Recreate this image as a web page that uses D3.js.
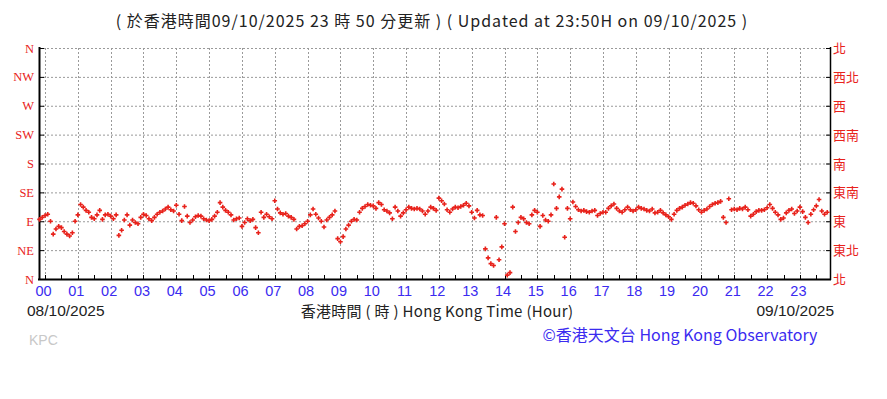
<!DOCTYPE html>
<html>
<head>
<meta charset="utf-8">
<title>Wind direction</title>
<style>
    body { margin: 0; background: white; }
    text { font-family: "Liberation Sans", Arial, sans-serif; }
    .grid line { stroke: #9a9a9a; stroke-width: 1px; stroke-dasharray: 2,2; }
</style>
<script src="https://d3js.org/d3.v7.min.js"></script>
</head>
<body>
<svg id="chart" width="887" height="399"></svg>
<script>
    // direction labels, bottom (0 deg) to top (360 deg)
    var dirDeg = [0, 45, 90, 135, 180, 225, 270, 315, 360];
    var dirEn = ["N", "NE", "E", "SE", "S", "SW", "W", "NW", "N"];
    var dirZh = ["北", "東北", "東", "東南", "南", "西南", "西", "西北", "北"];
    var hourLabels = ["00","01","02","03","04","05","06","07","08","09","10","11",
                      "12","13","14","15","16","17","18","19","20","21","22","23"];

    // first reading at 23:50 of the day before, one every 5 minutes
    var startMinute = -10;
    var stepMinutes = 5;
    var windDir = [
        93, 96,
        99, 101, 90, 70, 78, 82, 80, 74, 70, 67, 72, 90,          // 00
        100, 116, 112, 107, 104, 96, 94, 100, 107, 93, 100, 101,  // 01
        98, 94, 100, 68, 76, 92, 100, 84, 92, 88, 86, 96,         // 02
        101, 99, 94, 91, 96, 101, 104, 106, 109, 112, 108, 106,   // 03
        115, 101, 91, 113, 98, 88, 92, 97, 99, 98, 94, 92,        // 04
        91, 93, 98, 104, 119, 112, 107, 104, 100, 92, 94, 95,     // 05
        82, 88, 94, 91, 93, 80, 72, 104, 96, 101, 97, 94,         // 06
        122, 109, 103, 101, 102, 98, 96, 93, 78, 82, 83, 86,      // 07
        90, 100, 109, 101, 95, 90, 81, 92, 96, 100, 106, 63,      // 08
        58, 66, 78, 84, 90, 93, 92, 104, 110, 113, 116, 115,      // 09
        114, 110, 119, 116, 108, 106, 103, 94, 112, 106, 98, 103, // 10
        108, 112, 110, 109, 110, 109, 106, 101, 106, 112, 110, 107, // 11
        126, 122, 117, 108, 104, 109, 112, 111, 113, 115, 118, 114, // 12
        104, 95, 107, 100, 99, 47, 33, 24, 21, 96, 30, 50,        // 13
        86, 6, 10, 112, 74, 88, 96, 94, 88, 86, 100, 107,         // 14
        104, 82, 99, 92, 90, 100, 148, 110, 128, 140, 65, 110,    // 15
        94, 120, 113, 108, 106, 107, 105, 104, 106, 107, 99, 102, // 16
        104, 104, 110, 114, 117, 110, 106, 104, 108, 112, 108, 106, // 17
        108, 112, 110, 109, 107, 106, 109, 103, 104, 107, 103, 100, // 18
        97, 93, 101, 107, 110, 112, 115, 117, 119, 118, 114, 108, // 19
        104, 107, 109, 113, 116, 118, 119, 121, 96, 88, 125, 108, // 20
        109, 108, 110, 109, 112, 108, 98, 101, 105, 107, 107, 108, // 21
        111, 116, 110, 104, 100, 93, 95, 103, 107, 109, 102, 106, // 22
        112, 105, 96, 88, 101, 108, 114, 124, 106, 101, 104       // 23
    ];

    var svg = d3.select("#chart");
    var red = "#e8221b";
    var blue = "#3b2bf0";

    var x = d3.scaleLinear().domain([-11, 1435]).range([39, 830]);
    var y = d3.scaleLinear().domain([0, 360]).range([279, 48]);

    // title
    svg.append("text")
        .attr("x", 432).attr("y", 27)
        .attr("text-anchor", "middle")
        .style("font-size", "16px").style("fill", "#222")
        .style("letter-spacing", "1px")
        .style("font-family", "'Noto Sans CJK TC', 'Liberation Sans', sans-serif")
        .text("( 於香港時間09/10/2025 23 時 50 分更新 ) ( Updated at 23:50H on 09/10/2025 )");

    // grid
    var grid = svg.append("g").attr("class", "grid");
    grid.selectAll(".h")
        .data(dirDeg.slice(1))
        .join("line")
        .attr("x1", x(-11)).attr("x2", x(1435))
        .attr("y1", d => y(d) + 0.5).attr("y2", d => y(d) + 0.5);
    grid.selectAll(".v")
        .data(d3.range(24))
        .join("line")
        .attr("x1", d => Math.round(x(d * 60)) + 0.5).attr("x2", d => Math.round(x(d * 60)) + 0.5)
        .attr("y1", y(360)).attr("y2", y(0));

    // frame: left, bottom, right
    svg.append("line").attr("x1", 39.5).attr("x2", 39.5).attr("y1", 47).attr("y2", 280)
        .attr("stroke", "#000").attr("stroke-width", 2);
    svg.append("line").attr("x1", 38).attr("x2", 831).attr("y1", 279.5).attr("y2", 279.5)
        .attr("stroke", "#000").attr("stroke-width", 2);
    svg.append("line").attr("x1", 830.5).attr("x2", 830.5).attr("y1", 47).attr("y2", 280)
        .attr("stroke", "#000").attr("stroke-width", 1.5);

    // inward ticks
    svg.selectAll(".lt").data(dirDeg).join("line")
        .attr("x1", 40).attr("x2", 44)
        .attr("y1", d => y(d) + 0.5).attr("y2", d => y(d) + 0.5)
        .attr("stroke", "#000");
    svg.selectAll(".rt").data(dirDeg).join("line")
        .attr("x1", 826).attr("x2", 830)
        .attr("y1", d => y(d) + 0.5).attr("y2", d => y(d) + 0.5)
        .attr("stroke", "#000");
    svg.selectAll(".bt").data(d3.range(0, 1440, 30)).join("line")
        .attr("x1", d => Math.round(x(d)) + 0.5).attr("x2", d => Math.round(x(d)) + 0.5)
        .attr("y1", 275).attr("y2", 279)
        .attr("stroke", "#000");

    // direction labels
    svg.selectAll(".en").data(dirDeg).join("text")
        .attr("x", 34).attr("y", d => y(d) + 4.5)
        .attr("text-anchor", "end")
        .style("font-family", "'Liberation Serif', 'DejaVu Serif', serif")
        .style("font-size", "12.5px")
        .style("fill", red)
        .text((d, i) => dirEn[i]);
    svg.selectAll(".zh").data(dirDeg).join("text")
        .attr("x", 833).attr("y", d => y(d) + 5)
        .style("font-family", "'Noto Sans CJK TC', sans-serif")
        .style("font-size", "13px")
        .style("fill", red)
        .text((d, i) => dirZh[i]);

    // hour labels
    svg.selectAll(".hr").data(hourLabels).join("text")
        .attr("x", (d, i) => x(i * 60) - 1.5).attr("y", 296)
        .attr("text-anchor", "middle")
        .style("font-size", "14.5px")
        .style("fill", blue)
        .text(d => d);

    svg.append("text").attr("x", 27).attr("y", 316)
        .style("font-size", "15.5px").style("fill", "#222")
        .text("08/10/2025");
    svg.append("text").attr("x", 834).attr("y", 316)
        .attr("text-anchor", "end")
        .style("font-size", "15.5px").style("fill", "#222")
        .text("09/10/2025");
    svg.append("text").attr("x", 437).attr("y", 317)
        .attr("text-anchor", "middle")
        .style("font-family", "'Noto Sans CJK TC', 'Liberation Sans', sans-serif")
        .style("font-size", "15px").style("fill", "#222")
        .style("letter-spacing", "0.3px")
        .text("香港時間 ( 時 ) Hong Kong Time (Hour)");
    svg.append("text").attr("x", 29).attr("y", 345)
        .style("font-size", "14px").style("fill", "#c8c8c8")
        .text("KPC");
    svg.append("text").attr("x", 680).attr("y", 341)
        .attr("text-anchor", "middle")
        .style("font-family", "'Noto Sans CJK TC', 'Liberation Sans', sans-serif")
        .style("font-size", "16px").style("fill", blue)
        .text("©香港天文台 Hong Kong Observatory");

    // wind direction points
    svg.append("g").selectAll("path")
        .data(windDir)
        .join("path")
        .attr("transform", (d, i) => "translate(" + x(startMinute + i * stepMinutes) + "," + y(d) + ")")
        .attr("d", "M-2.3,0H2.3M0,-2.3V2.3")
        .attr("stroke", red)
        .attr("stroke-width", 1.6);
</script>
</body>
</html>
